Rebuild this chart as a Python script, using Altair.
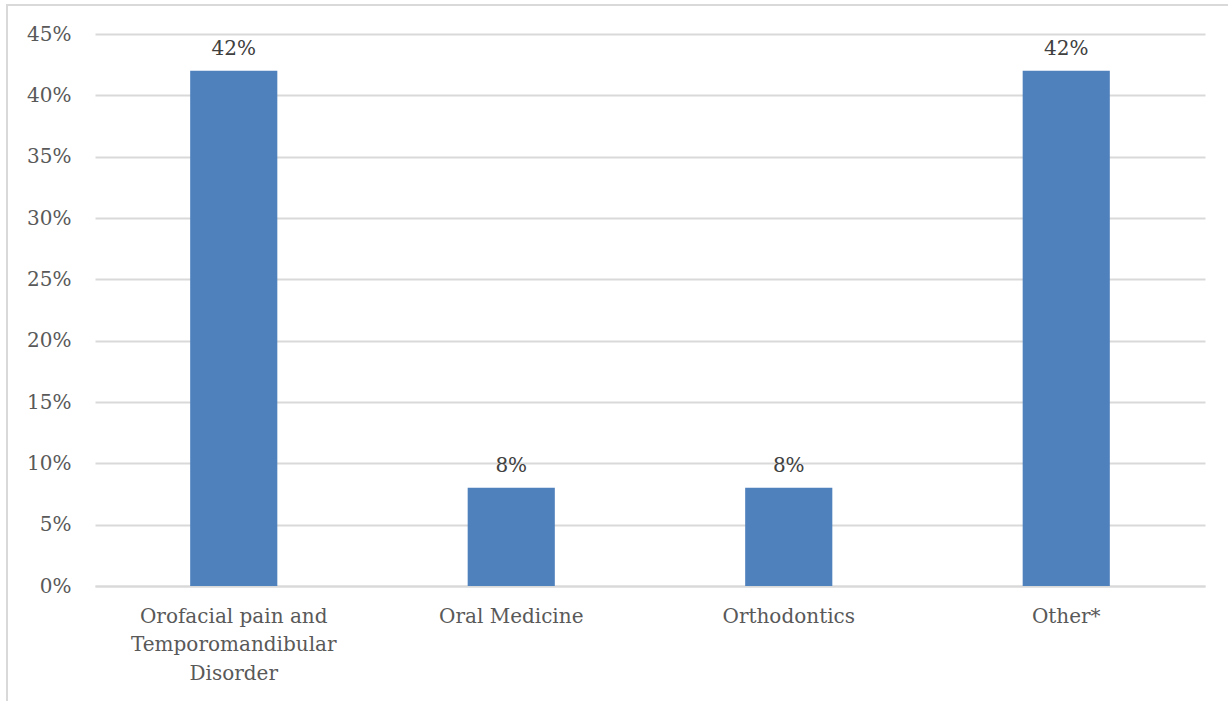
import altair as alt
import pandas as pd

# Share of referrals by specialty
categories = [
    "Orofacial pain and Temporomandibular Disorder",
    "Oral Medicine",
    "Orthodontics",
    "Other*",
]
shares = [0.42, 0.08, 0.08, 0.42]
value_labels = ["42%", "8%", "8%", "42%"]

df = pd.DataFrame({"category": categories, "share": shares, "label": value_labels})

FONT = "DejaVu Serif"
GRID = "#D9D9D9"

label_expr = (
    "datum.label == 'Orofacial pain and Temporomandibular Disorder' "
    "? ['Orofacial pain and', 'Temporomandibular', 'Disorder'] : datum.label"
)

x_enc = alt.X(
    "category:N",
    sort=categories,
    title=None,
    scale=alt.Scale(paddingInner=0.686, paddingOuter=0.343),
    axis=alt.Axis(
        labelAngle=0,
        labelFont=FONT,
        labelFontSize=20,
        labelColor="#595959",
        labelPadding=20,
        labelLineHeight=28.5,
        labelLimit=400,
        labelExpr=label_expr,
        ticks=False,
        domainColor=GRID,
        domainWidth=2,
        grid=False,
    ),
)

y_enc = alt.Y(
    "share:Q",
    title=None,
    scale=alt.Scale(domain=[0, 0.45], nice=False),
    axis=alt.Axis(
        values=[0, 0.05, 0.10, 0.15, 0.20, 0.25, 0.30, 0.35, 0.40, 0.45],
        format=".0%",
        labelFont=FONT,
        labelFontSize=20,
        labelColor="#595959",
        labelPadding=24,
        ticks=False,
        domain=False,
        gridColor=GRID,
        gridWidth=2,
    ),
)

bars = alt.Chart(df).mark_bar(color="#4F81BD").encode(x=x_enc, y=y_enc)

texts = alt.Chart(df).mark_text(
    font=FONT, fontSize=20, color="#404040", dy=-16, baseline="alphabetic"
).encode(x=alt.X("category:N", sort=categories), y="share:Q", text="label:N")

# outer frame around the figure
frame = alt.Chart(df).mark_rect(
    fill=None, stroke=GRID, strokeWidth=2
).encode(
    x=alt.value(-88), x2=alt.value(1200), y=alt.value(-29), y2=alt.value(700)
)

chart = (
    alt.layer(frame, bars, texts)
    .properties(
        width=1110,
        height=552,
        padding={"left": 95, "top": 34, "right": 23, "bottom": 115},
        autosize=alt.AutoSizeParams(type="none"),
        background="white",
    )
    .configure_view(stroke=None)
)

chart.save("out.html", embed_options={"renderer": "svg", "actions": False})
